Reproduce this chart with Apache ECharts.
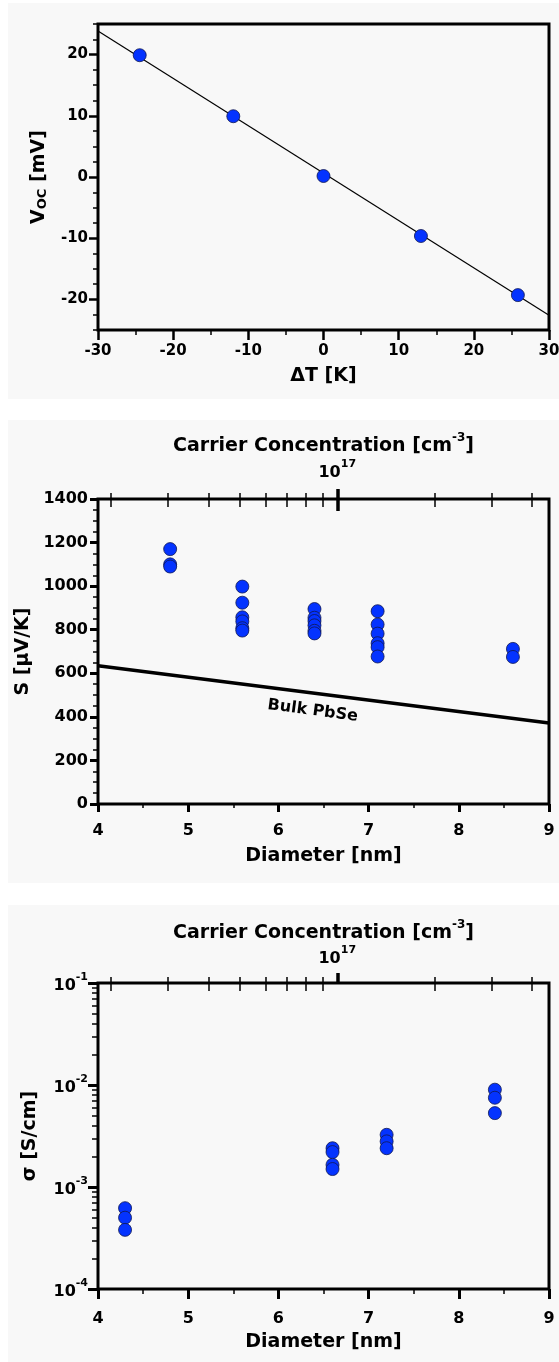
<!DOCTYPE html>
<html>
<head>
<meta charset="utf-8">
<script src="https://cdn.jsdelivr.net/npm/echarts@6.0.0/dist/echarts.min.js"></script>
<style>
  html, body { margin: 0; padding: 0; background: #fff; }
  #chart { width: 559px; height: 1362px; }
</style>
</head>
<body>
<div id="chart"></div>
<script>
// ---- Open-circuit voltage vs. temperature difference ----
const deltaT = [-24.45, -12.0, 0.0, 12.96, 25.86];
const voc = [19.9, 9.93, 0.16, -9.64, -19.3];
const fitDeltaT = [-30, 30];
const fitVoc = [23.85, -22.6];
const deltaTRange = [-30, 30];
const vocRange = [-25, 25];
const vocTicks = [-20, -10, 0, 10, 20];
const vocMinorTicks = [-25, -22.5, -17.5, -15, -12.5, -7.5, -5, -2.5, 2.5, 5, 7.5, 12.5, 15, 17.5, 22.5, 25];

// ---- Seebeck coefficient vs. nanocrystal diameter ----
const seebeckDiameter = [4.8, 4.8, 4.8,
  5.6, 5.6, 5.6, 5.6, 5.6, 5.6,
  6.4, 6.4, 6.4, 6.4, 6.4, 6.4,
  7.1, 7.1, 7.1, 7.1, 7.1, 7.1,
  8.6, 8.6];
const seebeck = [1170, 1100, 1090,
  998, 924, 857, 838, 807, 796,
  895, 855, 840, 820, 795, 783,
  885, 824, 782, 738, 720, 677,
  712, 675];
const bulkDiameter = [4, 9];
const bulkSeebeck = [635, 372];
const diameterRange = [4, 9];
const seebeckRange = [0, 1400];

// ---- Conductivity vs. nanocrystal diameter ----
const condDiameter = [4.3, 4.3, 4.3,
  6.6, 6.6, 6.6, 6.6,
  7.2, 7.2, 7.2,
  8.4, 8.4, 8.4];
const conductivity = [6.2e-4, 5.0e-4, 3.8e-4,
  2.4e-3, 2.2e-3, 1.65e-3, 1.5e-3,
  3.25e-3, 2.8e-3, 2.4e-3,
  9.0e-3, 7.5e-3, 5.3e-3];
const condRange = [1e-4, 1e-1];
const condMinorTicks = [2e-4, 3e-4, 4e-4, 5e-4, 6e-4, 7e-4, 8e-4, 9e-4,
  2e-3, 3e-3, 4e-3, 5e-3, 6e-3, 7e-3, 8e-3, 9e-3,
  2e-2, 3e-2, 4e-2, 5e-2, 6e-2, 7e-2, 8e-2, 9e-2];

// ---- Carrier concentration scale shown on the top axes ----
const concRange = [1.824e16, 4.508e17];
const concMinorTicks = [2e16, 3e16, 4e16, 5e16, 6e16, 7e16, 8e16, 9e16, 2e17, 3e17, 4e17];
const concMajorTicks = [1e17];

const pairs = (xs, ys) => xs.map((x, i) => [x, ys[i]]);
const lg = v => Math.log10(v);

const FONT = "'DejaVu Sans', sans-serif";
const BLACK = '#000';
const DOT = '#0433ff';
const PANEL_BG = '#f8f8f8';

const tickLabel = size => ({
  color: BLACK, fontFamily: FONT, fontWeight: 'bold', fontSize: size
});
const titleText = {
  color: BLACK, fontFamily: FONT, fontWeight: 'bold', fontSize: 19
};
const powerRich = {
  b: { color: BLACK, fontFamily: FONT, fontWeight: 'bold', fontSize: 16, lineHeight: 22, verticalAlign: 'bottom' },
  s: { color: BLACK, fontFamily: FONT, fontWeight: 'bold', fontSize: 11, lineHeight: 12, verticalAlign: 'top' }
};
const titleRich = {
  t: { color: BLACK, fontFamily: FONT, fontWeight: 'bold', fontSize: 19, lineHeight: 24, verticalAlign: 'bottom' },
  s: { color: BLACK, fontFamily: FONT, fontWeight: 'bold', fontSize: 12, lineHeight: 14, verticalAlign: 'top' },
  sub: { color: BLACK, fontFamily: FONT, fontWeight: 'bold', fontSize: 13, lineHeight: 15, verticalAlign: 'bottom' }
};
const tick = (len, w, extra) => Object.assign({ show: true, length: len, lineStyle: { color: BLACK, width: w } }, extra || {});
const noLine = { show: false, onZero: false };
const noSplit = { show: false };
const dotStyle = { color: DOT, borderColor: '#101850', borderWidth: 0.8, opacity: 1 };

const gridBase = {
  left: 98, right: 10, show: true, backgroundColor: PANEL_BG,
  borderColor: BLACK, borderWidth: 3, outerBoundsMode: 'none', containLabel: false
};

// Top axis pair for carrier concentration (log10 of cm^-3)
function concAxes(gridIndex, majorCross, nameGap, labelMargin) {
  const base = {
    gridIndex, type: 'value', position: 'top',
    min: lg(concRange[0]), max: lg(concRange[1]),
    axisLine: noLine, splitLine: noSplit
  };
  return [
    Object.assign({}, base, {
      offset: -8,
      axisTick: tick(14, 1.5, { customValues: concMinorTicks.map(lg) }),
      axisLabel: { show: false }
    }),
    Object.assign({}, base, {
      offset: majorCross ? -12 : 0,
      axisTick: tick(majorCross ? 22 : 10, 3.5, { customValues: concMajorTicks.map(lg) }),
      axisLabel: {
        show: true, margin: labelMargin,
        customValues: concMajorTicks.map(lg),
        formatter: v => `{b|10}{s|${Math.round(v)}}`,
        rich: powerRich
      },
      name: '{t|Carrier Concentration [cm}{s|-3}{t|]}',
      nameLocation: 'middle', nameGap,
      nameTextStyle: { rich: titleRich }
    })
  ];
}

const option = {
  backgroundColor: '#fff',
  animation: false,
  graphic: [
    { type: 'rect', z: -100, silent: true, shape: { x: 8, y: 3, width: 551, height: 396 }, style: { fill: PANEL_BG } },
    { type: 'rect', z: -100, silent: true, shape: { x: 8, y: 420, width: 551, height: 463 }, style: { fill: PANEL_BG } },
    { type: 'rect', z: -100, silent: true, shape: { x: 8, y: 905, width: 551, height: 457 }, style: { fill: PANEL_BG } }
  ],
  grid: [
    Object.assign({}, gridBase, { top: 24, height: 306 }),
    Object.assign({}, gridBase, { top: 499, height: 305 }),
    Object.assign({}, gridBase, { top: 983, height: 306 })
  ],
  xAxis: [
    // 0: temperature difference
    {
      gridIndex: 0, type: 'value', position: 'bottom',
      min: deltaTRange[0], max: deltaTRange[1], interval: 10,
      axisLine: noLine, splitLine: noSplit,
      axisTick: tick(10, 2.5),
      minorTick: { show: true, splitNumber: 2, length: 5, lineStyle: { color: BLACK, width: 1.5 } },
      minorSplitLine: noSplit,
      axisLabel: Object.assign({ margin: 14 }, tickLabel(15)),
      name: 'ΔT [K]', nameLocation: 'middle', nameGap: 37, nameTextStyle: titleText
    },
    // 1: diameter (Seebeck panel)
    {
      gridIndex: 1, type: 'value', position: 'bottom',
      min: diameterRange[0], max: diameterRange[1], interval: 1,
      axisLine: noLine, splitLine: noSplit,
      axisTick: tick(8, 3),
      minorTick: { show: true, splitNumber: 2, length: 4, lineStyle: { color: BLACK, width: 1.5 } },
      minorSplitLine: noSplit,
      axisLabel: Object.assign({ margin: 19 }, tickLabel(16)),
      name: 'Diameter [nm]', nameLocation: 'middle', nameGap: 43, nameTextStyle: titleText
    },
    // 2, 3: carrier concentration (Seebeck panel)
    ...concAxes(1, true, 55, 30),
    // 4: diameter (conductivity panel)
    {
      gridIndex: 2, type: 'value', position: 'bottom',
      min: diameterRange[0], max: diameterRange[1], interval: 1,
      axisLine: noLine, splitLine: noSplit,
      axisTick: tick(10, 3),
      minorTick: { show: true, splitNumber: 2, length: 5, lineStyle: { color: BLACK, width: 1.5 } },
      minorSplitLine: noSplit,
      axisLabel: Object.assign({ margin: 22 }, tickLabel(16)),
      name: 'Diameter [nm]', nameLocation: 'middle', nameGap: 44, nameTextStyle: titleText
    },
    // 5, 6: carrier concentration (conductivity panel)
    ...concAxes(2, false, 40, 16)
  ],
  yAxis: [
    // 0: open-circuit voltage, labelled ticks
    {
      gridIndex: 0, type: 'value', position: 'left', min: vocRange[0], max: vocRange[1],
      axisLine: noLine, splitLine: noSplit,
      axisTick: tick(9, 2.5, { customValues: vocTicks }),
      axisLabel: Object.assign({ margin: 10, customValues: vocTicks }, tickLabel(15)),
      name: '{v|V}{sub|OC}{v| [mV]}', nameLocation: 'middle', nameGap: 49,
      nameTextStyle: {
        rich: {
          v: { color: BLACK, fontFamily: FONT, fontWeight: 'bold', fontSize: 19, lineHeight: 22, verticalAlign: 'bottom' },
          sub: titleRich.sub
        }
      }
    },
    // 1: open-circuit voltage, minor ticks
    {
      gridIndex: 0, type: 'value', position: 'left', min: vocRange[0], max: vocRange[1],
      axisLine: noLine, splitLine: noSplit,
      axisTick: tick(5, 1.5, { customValues: vocMinorTicks }),
      axisLabel: { show: false }
    },
    // 2: Seebeck coefficient
    {
      gridIndex: 1, type: 'value', position: 'left',
      min: seebeckRange[0], max: seebeckRange[1], interval: 200,
      axisLine: noLine, splitLine: noSplit,
      axisTick: tick(8, 3),
      minorTick: { show: true, splitNumber: 4, length: 5, lineStyle: { color: BLACK, width: 1.5 } },
      minorSplitLine: noSplit,
      axisLabel: Object.assign({ margin: 10, formatter: v => String(v) }, tickLabel(16)),
      name: 'S [μV/K]', nameLocation: 'middle', nameGap: 58, nameTextStyle: titleText
    },
    // 3: conductivity (log scale)
    {
      gridIndex: 2, type: 'log', logBase: 10, position: 'left',
      min: condRange[0], max: condRange[1],
      axisLine: noLine, splitLine: noSplit,
      axisTick: tick(10, 3),
      axisLabel: {
        margin: 10,
        formatter: v => `{b|10}{s|${Math.round(Math.log10(v))}}`,
        rich: powerRich
      },
      name: 'σ [S/cm]', nameLocation: 'middle', nameGap: 58, nameTextStyle: titleText
    },
    // 4: conductivity minor ticks, drawn in decade units
    {
      gridIndex: 2, type: 'value', position: 'left',
      min: lg(condRange[0]), max: lg(condRange[1]),
      axisLine: noLine, splitLine: noSplit,
      axisTick: tick(6, 1.5, { customValues: condMinorTicks.map(lg) }),
      axisLabel: { show: false }
    }
  ],
  series: [
    {
      type: 'line', xAxisIndex: 0, yAxisIndex: 0,
      data: pairs(fitDeltaT, fitVoc), symbol: 'none', silent: true,
      lineStyle: { color: BLACK, width: 1.2 }, z: 2
    },
    {
      type: 'scatter', xAxisIndex: 0, yAxisIndex: 0,
      data: pairs(deltaT, voc), symbolSize: 13,
      itemStyle: dotStyle, z: 3
    },
    {
      type: 'line', xAxisIndex: 1, yAxisIndex: 2,
      data: pairs(bulkDiameter, bulkSeebeck), symbol: 'none', silent: true,
      lineStyle: { color: BLACK, width: 3.5 }, z: 2
    },
    {
      type: 'scatter', xAxisIndex: 1, yAxisIndex: 2, silent: true,
      data: [[6.38, 428]], symbolSize: 0,
      itemStyle: { opacity: 1 },
      label: {
        show: true, position: 'inside', formatter: 'Bulk PbSe', rotate: -7.5,
        color: BLACK, fontFamily: FONT, fontWeight: 'bold', fontSize: 16
      }, z: 2
    },
    {
      type: 'scatter', xAxisIndex: 1, yAxisIndex: 2,
      data: pairs(seebeckDiameter, seebeck), symbolSize: 13,
      itemStyle: dotStyle, z: 3
    },
    {
      type: 'scatter', xAxisIndex: 4, yAxisIndex: 3,
      data: pairs(condDiameter, conductivity), symbolSize: 13,
      itemStyle: dotStyle, z: 3
    }
  ]
};

const chart = echarts.init(document.getElementById('chart'), null, { renderer: 'canvas' });
chart.setOption(option);
</script>
</body>
</html>
